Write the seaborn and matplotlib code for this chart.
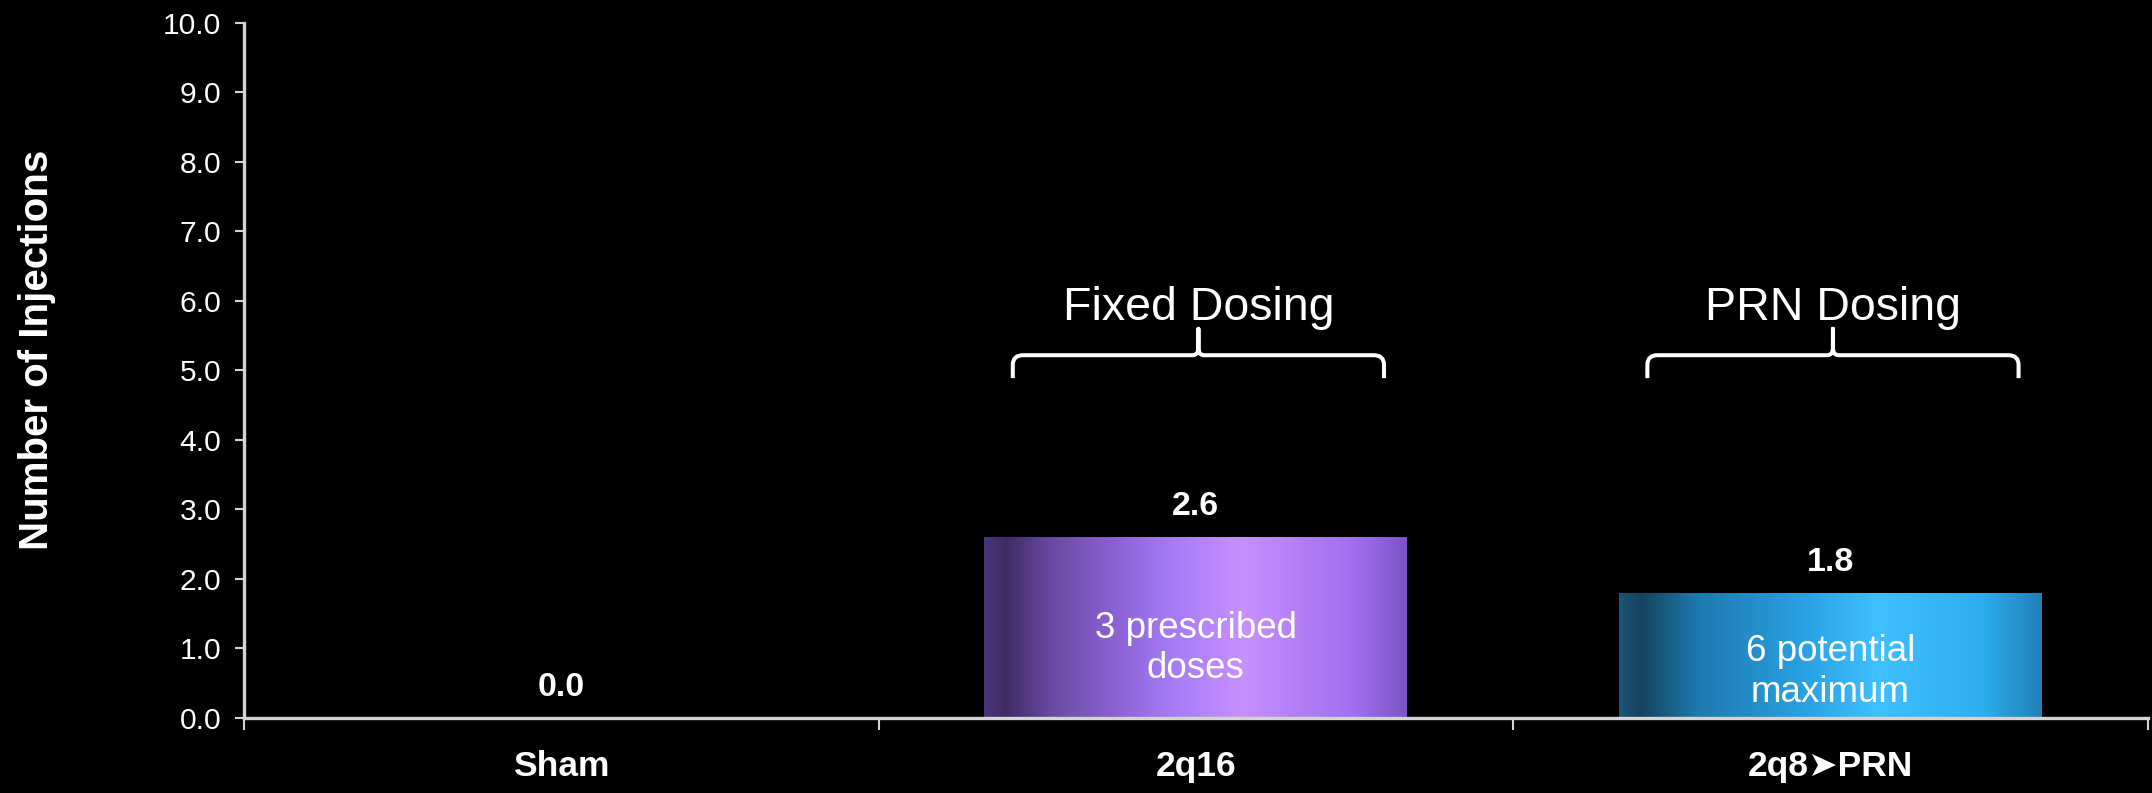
import matplotlib
matplotlib.use("Agg")
import matplotlib.pyplot as plt
from matplotlib.colors import LinearSegmentedColormap
from matplotlib.path import Path
from matplotlib.patches import PathPatch
import numpy as np
import pandas as pd
import seaborn as sns

# Mean number of injections per treatment arm
categories = ["Sham", "2q16", "2q8➤PRN"]
injections = [0.0, 2.6, 1.8]
bar_notes = ["", "3 prescribed\ndoses", "6 potential\nmaximum"]
group_titles = ["Fixed Dosing", "PRN Dosing"]
y_ticks = [0.0, 1.0, 2.0, 3.0, 4.0, 5.0, 6.0, 7.0, 8.0, 9.0, 10.0]

sns.set_theme(style="dark")
plt.rcParams["font.family"] = ["Liberation Sans", "DejaVu Sans"]
FG = "white"
AXIS = "#d4d4d4"

df = pd.DataFrame({"arm": categories, "n": injections})

fig = plt.figure(figsize=(21.52, 7.93), dpi=100, facecolor="black")
ax = fig.add_axes([0.1134, 0.0946, 0.8846, 0.8764])
ax.set_facecolor("black")

sns.barplot(data=df, x="arm", y="n", ax=ax, width=0.6665,
            color="#9b6cf0", edgecolor="none", saturation=1)

gradients = [
    None,
    LinearSegmentedColormap.from_list("violet", [
        (0.0, "#4a3578"), (0.05, "#3f2c66"), (0.16, "#6a4aa4"),
        (0.3, "#8a60d0"), (0.45, "#a87bf8"), (0.61, "#c690fd"),
        (0.88, "#a06ef0"), (1.0, "#7c55c6")]),
    LinearSegmentedColormap.from_list("azure", [
        (0.0, "#1a5679"), (0.05, "#16425e"), (0.18, "#1e78ad"),
        (0.45, "#2aa3e5"), (0.61, "#40c0ff"), (0.86, "#2eaef0"),
        (1.0, "#2080b5")]),
]

ramp = np.linspace(0, 1, 256).reshape(1, -1)
for patch, cmap, val, note in zip(ax.patches, gradients, injections, bar_notes):
    x0, w, h = patch.get_x(), patch.get_width(), patch.get_height()
    xc = x0 + w / 2
    if cmap is not None and h > 0:
        patch.set_facecolor("none")
        im = ax.imshow(ramp, cmap=cmap, aspect="auto",
                       extent=[x0, x0 + w, 0, h], zorder=2,
                       interpolation="bicubic")
        im.set_clip_path(patch)
    ax.text(xc, val + 0.44, f"{val:.1f}", ha="center", va="center",
            color=FG, fontsize=24.5, fontweight="bold", zorder=4)
    if note:
        yc = 1.0 if val > 2 else 0.66
        ax.text(xc, yc, note, ha="center", va="center", color=FG,
                fontsize=26.5, linespacing=1.2, zorder=4)


def brace(ax, x0, x1, y_end, y_bar, y_tip, r=0.016, rv=0.14,
          rm=0.009, rvm=0.11):
    xm = (x0 + x1) / 2
    verts = [
        (x0, y_end), (x0, y_bar - rv), (x0, y_bar), (x0 + r, y_bar),
        (xm - rm, y_bar), (xm, y_bar), (xm, y_bar + rvm), (xm, y_tip),
        (xm, y_bar + rvm), (xm, y_bar), (xm + rm, y_bar),
        (x1 - r, y_bar), (x1, y_bar), (x1, y_bar - rv), (x1, y_end),
    ]
    codes = [Path.MOVETO, Path.LINETO, Path.CURVE3, Path.CURVE3,
             Path.LINETO, Path.CURVE3, Path.CURVE3, Path.LINETO,
             Path.LINETO, Path.CURVE3, Path.CURVE3,
             Path.LINETO, Path.CURVE3, Path.CURVE3, Path.LINETO]
    ax.add_patch(PathPatch(Path(verts, codes), fill=False, edgecolor=FG,
                           lw=2.9, capstyle="butt", joinstyle="round",
                           zorder=4, clip_on=False))
    return xm


for idx, title in zip([1, 2], group_titles):
    xm = brace(ax, idx - 0.2885, idx + 0.2965, 4.89, 5.22, 5.6)
    ax.text(xm, 5.9, title, ha="center", va="center", color=FG,
            fontsize=33.5)

# Axes styling
ax.set_xlim(-0.5, 2.5)
ax.set_ylim(0, 10)
ax.set_yticks(y_ticks)
ax.set_yticklabels([f"{t:.1f}" for t in y_ticks], color=FG, fontsize=21.6)
ax.set_xticks([-0.5, 0.5, 1.5, 2.5])
ax.set_xticklabels([])
ax.set_xticks([0, 1, 2], minor=True)
ax.set_xticklabels(categories, minor=True, color=FG, fontsize=25.5,
                   fontweight="bold")
ax.tick_params(axis="x", which="major", direction="out", length=8.5,
               width=1.5, color=AXIS, bottom=True)
ax.tick_params(axis="x", which="minor", length=0, pad=23, bottom=True)
ax.tick_params(axis="y", direction="out", length=6.5, width=1.5, color=AXIS,
               pad=10, left=True)
ax.set_xlabel("")
ax.set_ylabel("Number of Injections", color=FG, fontsize=29,
              fontweight="bold")
ax.yaxis.label.set_va("center")
ax.yaxis.set_label_coords(-0.1087, 0.53)
ax.grid(False)
for side in ["top", "right"]:
    ax.spines[side].set_visible(False)
for side in ["left", "bottom"]:
    ax.spines[side].set_visible(True)
    ax.spines[side].set_color(AXIS)
    ax.spines[side].set_linewidth(2.4)
ax.spines["bottom"].set_zorder(5)

fig.savefig("out.png", dpi=100, facecolor="black")
